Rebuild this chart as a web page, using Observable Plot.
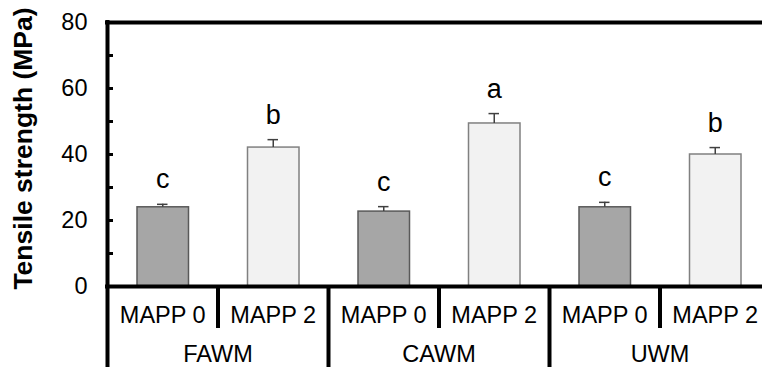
<!DOCTYPE html>
<html>
<head>
<meta charset="utf-8">
<script src="https://cdn.jsdelivr.net/npm/d3@7"></script>
<script src="https://cdn.jsdelivr.net/npm/@observablehq/plot@0.6"></script>
<style>
  html, body { margin: 0; padding: 0; background: #fff; }
  #chart svg { display: block; overflow: hidden; }
</style>
</head>
<body>
<div id="chart"></div>
<script>
// Data
const groups = ["FAWM", "CAWM", "UWM"];
const treatments = ["MAPP 0", "MAPP 2"];
const means = [24.0, 42.1, 22.7, 49.4, 24.0, 40.0];
const errors = [0.9, 2.4, 1.5, 3.0, 1.5, 2.1];
const letters = ["c", "b", "c", "a", "c", "b"];
const yTicks = [0, 10, 20, 30, 40, 50, 60, 70, 80];
const yTickLabels = [0, 20, 40, 60, 80];
const yLabel = "Tensile strength (MPa)";

const fills = {"MAPP 0": "#a6a6a6", "MAPP 2": "#f2f2f2"};
const strokes = {"MAPP 0": "#595959", "MAPP 2": "#808080"};

const rows = [];
groups.forEach((g, gi) => treatments.forEach((t, ti) => {
  const i = gi * treatments.length + ti;
  rows.push({group: g, treatment: t, i, mean: means[i], err: errors[i], letter: letters[i]});
}));
const n = rows.length;
const groupRows = groups.map((g, gi) => ({group: g, gi}));
const innerSeps = d3.range(1, n, 2);           // between treatments inside a group
const groupSeps = d3.range(2, n, 2);           // between groups

const chart = Plot.plot({
  width: 762,
  height: 367,
  marginLeft: 107,
  marginRight: 0,
  marginTop: 22,
  marginBottom: 81,
  style: {fontFamily: "'Liberation Sans', Arial, sans-serif", background: "#fff", color: "#000"},
  x: {type: "linear", domain: [0, n], range: [107, 770], axis: null},
  y: {domain: [0, 80], range: [286, 22], axis: null},
  marks: [
    // bars
    Plot.rectY(rows, {
      x1: d => d.i, x2: d => d.i + 1, y1: 0, y2: "mean",
      insetLeft: 30, insetRight: 29,
      fill: d => fills[d.treatment], stroke: d => strokes[d.treatment], strokeWidth: 1.5
    }),
    // error bars
    Plot.ruleX(rows, {x: d => d.i + 0.5, y1: "mean", y2: d => d.mean + d.err, stroke: "#404040", strokeWidth: 1.5}),
    Plot.ruleY(rows, {y: d => d.mean + d.err, x1: d => d.i, x2: d => d.i + 1, insetLeft: 50, insetRight: 50, stroke: "#404040", strokeWidth: 1.5}),
    // significance letters
    Plot.text(rows, {x: d => d.i + 0.5, y: d => d.mean + d.err, text: "letter", dy: -16, lineAnchor: "bottom", fontSize: 27, fill: "#000"}),
    // frame lines
    Plot.ruleY([0, 80], {y: d => d, x1: 0, x2: n, insetLeft: -2, strokeWidth: 4, stroke: "#000"}),
    Plot.ruleX([0], {x: d => d, y1: 80, y2: 0, insetTop: -2, insetBottom: -81, strokeWidth: 4, stroke: "#000"}),
    Plot.ruleX(innerSeps, {x: d => d, y1: 0, y2: 0, insetBottom: -42, strokeWidth: 4, stroke: "#000"}),
    Plot.ruleX(groupSeps, {x: d => d, y1: 0, y2: 0, insetBottom: -81, strokeWidth: 4, stroke: "#000"}),
    // y ticks (inside)
    Plot.ruleY(yTicks, {y: d => d, x1: 0, x2: 0, insetRight: -6, strokeWidth: 3, stroke: "#000"}),
    // y tick labels
    Plot.axisY({ticks: yTickLabels, tickSize: 0, tickPadding: 20, fontSize: 23.5, label: null, tickFormat: d => String(d)}),
    // category labels
    Plot.text(rows, {x: d => d.i + 0.5, y: 0, text: "treatment", dy: 29, lineAnchor: "middle", fontSize: 23.5, fill: "#000"}),
    Plot.text(groupRows, {x: d => d.gi * 2 + 1, y: 0, text: "group", dy: 68, lineAnchor: "middle", fontSize: 23.5, fill: "#000"}),
    // y axis title
    Plot.text([yLabel], {frameAnchor: "left", text: d => d, rotate: -90, textAnchor: "middle", dx: -84, dy: -6, fontSize: 26.5, fontWeight: "bold", fill: "#000"})
  ]
});
document.getElementById("chart").appendChild(chart);
</script>
</body>
</html>
